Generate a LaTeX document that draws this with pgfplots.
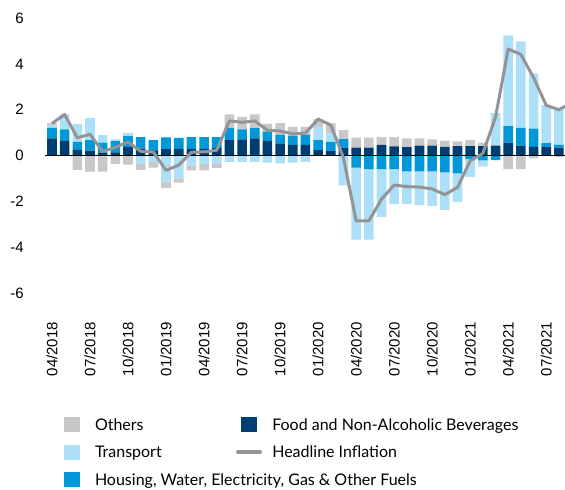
\documentclass[border=0pt]{standalone}
\usepackage{fontspec}
\setmainfont{Liberation Sans}
\newfontfamily\legfont{Lato}
\usepackage{pgfplots}
\usepackage{pgfplotstable}
\pgfplotsset{compat=1.18}
\definecolor{cOthers}{RGB}{200,200,202}
\definecolor{cTrans}{RGB}{172,223,248}
\definecolor{cHouse}{RGB}{0,152,216}
\definecolor{cFood}{RGB}{0,62,114}
\definecolor{cHead}{RGB}{148,148,150}

\pgfplotstableread{
i F H T O L
0 0.75 0.46 0.13 0.07 1.40
1 0.64 0.50 0.61 0.05 1.79
2 0.24 0.36 0.78 -0.63 0.77
3 0.21 0.46 0.96 -0.70 0.93
4 0.12 0.44 0.33 -0.70 0.17
5 0.14 0.49 0.07 -0.37 0.36
6 0.38 0.47 0.13 -0.40 0.59
7 0.30 0.50 -0.37 -0.26 0.18
8 0.22 0.45 -0.28 -0.25 0.15
9 0.28 0.51 -1.14 -0.29 -0.65
10 0.29 0.48 -1.00 -0.19 -0.42
11 0.29 0.51 -0.43 -0.22 0.14
12 0.29 0.51 -0.38 -0.27 0.16
13 0.32 0.48 -0.36 -0.18 0.23
14 0.67 0.54 -0.28 0.59 1.51
15 0.70 0.44 -0.28 0.55 1.45
16 0.75 0.45 -0.28 0.60 1.51
17 0.64 0.40 -0.31 0.34 1.10
18 0.53 0.38 -0.34 0.50 1.07
19 0.46 0.40 -0.31 0.39 0.94
20 0.46 0.44 -0.28 0.35 0.98
21 0.24 0.43 0.58 0.34 1.59
22 0.21 0.39 0.36 0.44 1.33
23 0.34 0.38 -1.31 0.39 -0.10
24 0.34 -0.53 -3.14 0.44 -2.86
25 0.34 -0.60 -3.07 0.44 -2.86
26 0.46 -0.60 -2.09 0.34 -1.91
27 0.40 -0.60 -1.52 0.40 -1.29
28 0.37 -0.69 -1.43 0.38 -1.36
29 0.43 -0.69 -1.48 0.32 -1.38
30 0.43 -0.69 -1.51 0.27 -1.46
31 0.38 -0.74 -1.64 0.27 -1.71
32 0.41 -0.78 -1.25 0.21 -1.39
33 0.41 -0.16 -0.77 0.26 -0.23
34 0.41 -0.21 -0.28 0.15 0.09
35 0.43 -0.20 1.42 0.00 1.68
36 0.56 0.72 3.96 -0.59 4.65
37 0.43 0.78 3.77 -0.59 4.41
38 0.38 0.79 2.42 -0.13 3.40
39 0.37 0.17 1.66 -0.03 2.19
40 0.34 0.12 1.55 -0.06 2.00
41 0 0 0 0 2.30
}\data

\pgfplotsset{base/.style={at={(45pt,197.1pt)}, anchor=south west, scale only axis,
  width=520pt, height=274.8pt, xmin=-0.55, xmax=40.48, ymin=-6, ymax=6,
  axis line style={draw=none}, major tick length=0pt, xtick=\empty, ytick=\empty}}

\begin{document}
\begin{tikzpicture}
\useasboundingbox (0,0) rectangle (565pt,490pt);
% positive parts
\begin{axis}[base, ybar stacked, bar width=9.6pt]
\addplot[fill=cFood, draw=none] table[x=i, y expr={max(\thisrow{F},0)}]{\data};
\addplot[fill=cHouse, draw=none] table[x=i, y expr={max(\thisrow{H},0)}]{\data};
\addplot[fill=cTrans, draw=none] table[x=i, y expr={max(\thisrow{T},0)}]{\data};
\addplot[fill=cOthers, draw=none] table[x=i, y expr={max(\thisrow{O},0)}]{\data};
\end{axis}
% negative parts
\begin{axis}[base, ybar stacked, bar width=9.6pt]
\addplot[fill=cFood, draw=none] table[x=i, y expr={min(\thisrow{F},0)}]{\data};
\addplot[fill=cHouse, draw=none] table[x=i, y expr={min(\thisrow{H},0)}]{\data};
\addplot[fill=cTrans, draw=none] table[x=i, y expr={min(\thisrow{T},0)}]{\data};
\addplot[fill=cOthers, draw=none] table[x=i, y expr={min(\thisrow{O},0)}]{\data};
\end{axis}
% line, ticks, legend
\begin{axis}[base,
  xtick={0,3,...,39},
  xticklabels={04/2018,07/2018,10/2018,01/2019,04/2019,07/2019,10/2019,01/2020,04/2020,07/2020,10/2020,01/2021,04/2021,07/2021},
  ytick={-6,-4,...,6},
  /pgf/number format/assume math mode=true,
  xticklabel style={rotate=90, anchor=east, inner sep=0pt, font=\fontsize{15}{18}\selectfont},
  xticklabel shift=29pt,
  yticklabel style={anchor=east, inner sep=0pt, font=\fontsize{15}{18}\selectfont},
  yticklabel shift=21pt,
  legend columns=2, legend cell align=left,
  legend style={at={(axis description cs:0,0)}, anchor=north west, xshift=19pt, yshift=-123.9pt,
    draw=none, fill=none, inner sep=0pt, outer sep=0pt, row sep=11.3pt, column sep=0pt,
    font=\legfont\fontsize{16}{19}\selectfont,
    nodes={inner sep=0pt, outer sep=0pt, anchor=west, text height=12pt, text depth=0.4pt}},
]
\addplot[black, line width=1.3pt, forget plot] coordinates {(-0.55,0) (40.48,0)};
\addplot[cHead, line width=3pt, line join=round, forget plot] table[x=i, y=L]{\data};
\addlegendimage{legend image code/.code={\fill[cOthers, draw=none] (0pt,-7.5pt) rectangle (16pt,7.5pt); \path[draw=none, fill=none] (0pt,-8pt) rectangle (31pt,8pt);}}
\addlegendentry{\makebox[141pt][l]{Others}}
\addlegendimage{legend image code/.code={\fill[cFood, draw=none] (4.7pt,-7.5pt) rectangle (20.7pt,7.5pt); \path[draw=none, fill=none] (0pt,-8pt) rectangle (36.3pt,8pt);}}
\addlegendentry{Food and Non-Alcoholic Beverages}
\addlegendimage{legend image code/.code={\fill[cTrans, draw=none] (0pt,-7.5pt) rectangle (16pt,7.5pt); \path[draw=none, fill=none] (0pt,-8pt) rectangle (31pt,8pt);}}
\addlegendentry{\makebox[141pt][l]{Transport}}
\addlegendimage{legend image code/.code={\draw[cHead, line width=4.3pt, line cap=round] (2.2pt,0pt) -- (23.8pt,0pt); \path[draw=none, fill=none] (0pt,-8pt) rectangle (36.3pt,8pt);}}
\addlegendentry{Headline Inflation}
\addlegendimage{legend image code/.code={\fill[cHouse, draw=none] (0pt,-7.5pt) rectangle (16pt,7.5pt); \path[draw=none, fill=none] (0pt,-8pt) rectangle (31pt,8pt);}}
\addlegendentry{\makebox[141pt][l]{Housing, Water, Electricity, Gas \& Other Fuels}}
\end{axis}
\end{tikzpicture}
\end{document}
